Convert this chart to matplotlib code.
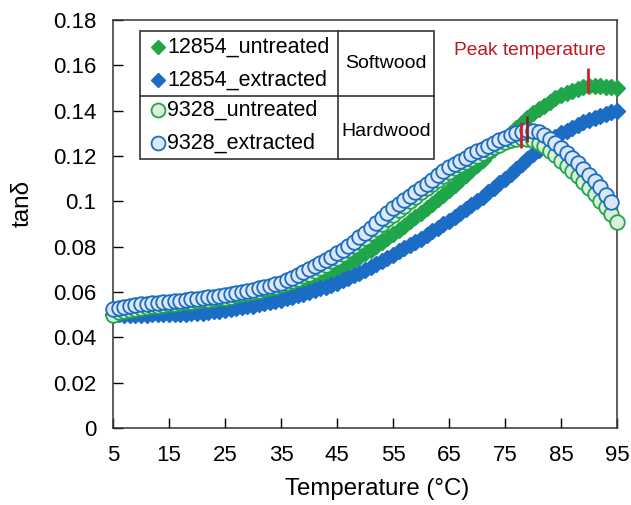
import numpy as np
import matplotlib
matplotlib.use('Agg')
from matplotlib import pyplot as plt
from matplotlib.patches import Rectangle

plt.rcParams['font.family'] = ['Liberation Sans', 'DejaVu Sans']

# temperature (°C), one reading per degree
temp = np.arange(5, 96)
temp_hw_ext = np.arange(5, 95)

# 12854 softwood, untreated
sw_untreated = [
    0.0500, 0.0502, 0.0504, 0.0506, 0.0508, 0.0510,
    0.0512, 0.0514, 0.0516, 0.0518, 0.0520,
    0.0522, 0.0524, 0.0526, 0.0528, 0.0530,
    0.0533, 0.0536, 0.0539, 0.0542, 0.0545,
    0.0550, 0.0555, 0.0560, 0.0565, 0.0570,
    0.0578, 0.0586, 0.0594, 0.0602, 0.0610,
    0.0617, 0.0624, 0.0631, 0.0638, 0.0645,
    0.0656, 0.0667, 0.0678, 0.0689, 0.0700,
    0.0714, 0.0728, 0.0742, 0.0756, 0.0770,
    0.0787, 0.0804, 0.0821, 0.0838, 0.0855,
    0.0874, 0.0893, 0.0912, 0.0931, 0.0950,
    0.0970, 0.0990, 0.1010, 0.1030, 0.1050,
    0.1072, 0.1094, 0.1116, 0.1138, 0.1160,
    0.1184, 0.1208, 0.1232, 0.1256, 0.1280,
    0.1302, 0.1324, 0.1346, 0.1368, 0.1390,
    0.1406, 0.1422, 0.1438, 0.1454, 0.1470,
    0.1479, 0.1488, 0.1497, 0.1504, 0.1510,
    0.1510, 0.1508, 0.1506, 0.1503, 0.1500,
]

# 12854 softwood, extracted
sw_extracted = [
    0.0502, 0.0501, 0.0500, 0.0500, 0.0500, 0.0500,
    0.0500, 0.0501, 0.0501, 0.0502, 0.0502,
    0.0503, 0.0504, 0.0505, 0.0506, 0.0507,
    0.0509, 0.0512, 0.0514, 0.0517, 0.0520,
    0.0524, 0.0528, 0.0532, 0.0536, 0.0540,
    0.0545, 0.0550, 0.0555, 0.0560, 0.0565,
    0.0572, 0.0579, 0.0586, 0.0593, 0.0600,
    0.0608, 0.0616, 0.0624, 0.0632, 0.0640,
    0.0651, 0.0662, 0.0673, 0.0684, 0.0695,
    0.0709, 0.0723, 0.0737, 0.0751, 0.0765,
    0.0779, 0.0793, 0.0807, 0.0821, 0.0835,
    0.0851, 0.0867, 0.0883, 0.0899, 0.0915,
    0.0932, 0.0949, 0.0966, 0.0983, 0.1000,
    0.1020, 0.1040, 0.1060, 0.1080, 0.1100,
    0.1122, 0.1144, 0.1166, 0.1188, 0.1210,
    0.1228, 0.1246, 0.1264, 0.1282, 0.1300,
    0.1312, 0.1324, 0.1336, 0.1348, 0.1360,
    0.1368, 0.1376, 0.1384, 0.1392, 0.1400,
]

# 9328 hardwood, untreated
hw_untreated = [
    0.0500, 0.0510, 0.0517, 0.0522, 0.0526, 0.0530,
    0.0533, 0.0536, 0.0539, 0.0542, 0.0545,
    0.0548, 0.0551, 0.0554, 0.0557, 0.0560,
    0.0563, 0.0566, 0.0569, 0.0572, 0.0575,
    0.0580, 0.0585, 0.0590, 0.0595, 0.0600,
    0.0606, 0.0612, 0.0618, 0.0624, 0.0630,
    0.0639, 0.0648, 0.0658, 0.0669, 0.0680,
    0.0693, 0.0706, 0.0720, 0.0735, 0.0750,
    0.0767, 0.0784, 0.0802, 0.0821, 0.0840,
    0.0860, 0.0880, 0.0900, 0.0920, 0.0940,
    0.0960, 0.0980, 0.1000, 0.1020, 0.1040,
    0.1058, 0.1076, 0.1094, 0.1112, 0.1130,
    0.1145, 0.1160, 0.1174, 0.1187, 0.1200,
    0.1213, 0.1226, 0.1238, 0.1249, 0.1260,
    0.1270, 0.1277, 0.1280, 0.1277, 0.1270,
    0.1257, 0.1242, 0.1224, 0.1203, 0.1180,
    0.1157, 0.1134, 0.1110, 0.1085, 0.1060,
    0.1032, 0.1003, 0.0974, 0.0943, 0.0910,
]

# 9328 hardwood, extracted (stops at 94 °C)
hw_extracted = [
    0.0525, 0.0530, 0.0535, 0.0538, 0.0542, 0.0545,
    0.0548, 0.0550, 0.0552, 0.0555, 0.0557,
    0.0560, 0.0562, 0.0565, 0.0567, 0.0570,
    0.0573, 0.0576, 0.0579, 0.0582, 0.0585,
    0.0590, 0.0595, 0.0600, 0.0605, 0.0610,
    0.0616, 0.0622, 0.0628, 0.0634, 0.0640,
    0.0651, 0.0662, 0.0674, 0.0687, 0.0700,
    0.0714, 0.0728, 0.0742, 0.0756, 0.0770,
    0.0787, 0.0804, 0.0822, 0.0841, 0.0860,
    0.0881, 0.0903, 0.0925, 0.0947, 0.0970,
    0.0988, 0.1006, 0.1024, 0.1042, 0.1060,
    0.1078, 0.1096, 0.1114, 0.1132, 0.1150,
    0.1165, 0.1179, 0.1193, 0.1207, 0.1220,
    0.1233, 0.1246, 0.1258, 0.1269, 0.1280,
    0.1291, 0.1300, 0.1308, 0.1315, 0.1312,
    0.1305, 0.1293, 0.1277, 0.1258, 0.1237,
    0.1215, 0.1192, 0.1168, 0.1143, 0.1117,
    0.1090, 0.1062, 0.1030, 0.0995,
]

# peak temperatures marked with short vertical ticks
peak_temp = [89.8, 77.8, 79.0]
peak_lo = [0.148, 0.1235, 0.126]
peak_hi = [0.159, 0.135, 0.1376]
peak_col = ['#d81e2c', '#d81e2c', '#7a2a24']

green = '#1fa64a'
blue = '#1a6cc4'

fig = plt.figure(figsize=(6.31, 5.05), dpi=100)
ax = fig.add_axes([0.1791, 0.1525, 0.7987, 0.8079])

ax.plot(temp, sw_untreated, 'D', ms=8, color=green, mec=green, clip_on=False, zorder=3)
ax.plot(temp, sw_extracted, 'D', ms=8, color=blue, mec=blue, clip_on=False, zorder=3)
ax.plot(temp, hw_untreated, 'o', ms=10.5, mfc='#dcefdc', mec=green, mew=1.3,
        clip_on=False, zorder=4)
ax.plot(temp_hw_ext, hw_extracted, 'o', ms=10.5, mfc='#dce8f6', mec=blue, mew=1.3,
        clip_on=False, zorder=4)

ax.vlines(peak_temp, peak_lo, peak_hi, colors=peak_col, lw=2, zorder=6)
ax.text(79.5, 0.1665, 'Peak temperature', color='#c0171f', fontsize=13.8,
        ha='center', va='center')

ax.set_xlim(5, 95)
ax.set_ylim(0, 0.18)
ax.set_xticks(np.arange(5, 96, 10))
ax.set_yticks(np.arange(0, 0.181, 0.02))
ax.set_yticklabels(['0', '0.02', '0.04', '0.06', '0.08', '0.1', '0.12',
                    '0.14', '0.16', '0.18'])
ax.tick_params(direction='in', length=7, width=1, labelsize=16, pad=12)
for s in ax.spines.values():
    s.set_linewidth(1.1)
    s.set_color('#333333')
ax.set_xlabel('Temperature (°C)', fontsize=17.3)
ax.xaxis.set_label_coords(0.524, -0.122)
ax.set_ylabel('tan\u03b4', fontsize=17.5)
ax.yaxis.set_label_coords(-0.158, 0.551)

# table-style legend
tb = ax.transAxes
ax.add_patch(Rectangle((0.0536, 0.659), 0.5834, 0.314, transform=tb, fill=True,
                       fc='white', ec='#333333', lw=1.2, zorder=7))
ax.plot([0.4464, 0.4464], [0.659, 0.973], transform=tb, color='#333333', lw=1.2, zorder=8)
ax.plot([0.0536, 0.637], [0.8137, 0.8137], transform=tb, color='#333333', lw=1.2, zorder=8)

rows_y = [0.9338, 0.853, 0.7794, 0.6985]
labels = ['12854_untreated', '12854_extracted', '9328_untreated', '9328_extracted']
styles = [
    dict(marker='D', ms=7, color=green, mec=green),
    dict(marker='D', ms=7, color=blue, mec=blue),
    dict(marker='o', ms=10, mfc='#dcefdc', mec=green, mew=1.3),
    dict(marker='o', ms=10, mfc='#dce8f6', mec=blue, mew=1.3),
]
for y, lab, st in zip(rows_y, labels, styles):
    ax.plot([0.0893], [y], transform=tb, ls='none', zorder=9, clip_on=False, **st)
    ax.text(0.108, y, lab, transform=tb, fontsize=15.5, va='center', ha='left', zorder=9)

ax.text(0.5417, 0.8946, 'Softwood', transform=tb, fontsize=14, ha='center', va='center', zorder=9)
ax.text(0.5417, 0.7255, 'Hardwood', transform=tb, fontsize=14, ha='center', va='center', zorder=9)

plt.savefig('out.png', dpi=100)
